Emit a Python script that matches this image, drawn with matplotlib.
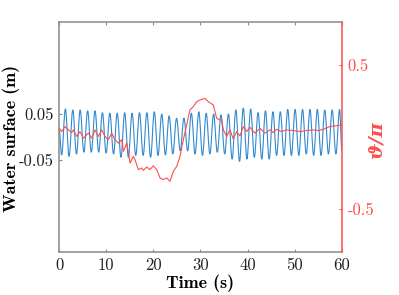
import matplotlib
matplotlib.use('Agg')
import matplotlib.pyplot as plt
from matplotlib.path import Path
from matplotlib.patches import PathPatch
import numpy as np

# Water surface: times and values of crests and troughs
crest_t = [1.34, 2.91, 4.48, 6.06, 7.63, 9.20, 10.77, 12.34, 13.92, 15.49,
           17.06, 18.63, 20.20, 21.78, 23.35, 24.92, 26.49, 28.06, 29.64, 31.21,
           32.78, 34.35, 35.92, 37.50, 39.07, 40.64, 42.21, 43.78, 45.36, 46.93,
           48.50, 50.07, 51.64, 53.22, 54.79, 56.36, 57.93, 59.50]
crest_v = [0.061, 0.059, 0.059, 0.057, 0.057, 0.053, 0.052, 0.052, 0.053, 0.052,
           0.053, 0.053, 0.055, 0.050, 0.046, 0.041, 0.041, 0.052, 0.055, 0.052,
           0.050, 0.048, 0.050, 0.059, 0.063, 0.061, 0.053, 0.057, 0.055, 0.055,
           0.060, 0.060, 0.060, 0.060, 0.060, 0.059, 0.059, 0.060]
trough_t = [0.55, 2.13, 3.70, 5.27, 6.84, 8.41, 9.99, 11.56, 13.13, 14.70,
            16.27, 17.84, 19.42, 20.99, 22.56, 24.13, 25.70, 27.28, 28.85, 30.42,
            31.99, 33.56, 35.14, 36.71, 38.28, 39.85, 41.42, 43.00, 44.57, 46.14,
            47.71, 49.28, 50.86, 52.43, 54.00, 55.57, 57.14, 58.72]
trough_v = [-0.039, -0.042, -0.037, -0.033, -0.033, -0.033, -0.035, -0.037, -0.044, -0.044,
            -0.040, -0.040, -0.044, -0.040, -0.039, -0.037, -0.030, -0.030, -0.037, -0.040,
            -0.037, -0.033, -0.037, -0.048, -0.053, -0.048, -0.044, -0.048, -0.048, -0.040,
            -0.040, -0.040, -0.040, -0.037, -0.040, -0.040, -0.037, -0.037]
wave_start = (0.0, 0.02)
wave_end = (60.0, -0.03)

# Angle theta/pi
theta_t = [0.0, 0.57, 1.27, 1.98, 2.69, 3.04, 3.75, 4.45, 5.16, 6.22, 6.93, 7.63,
           8.34, 9.05, 9.75, 10.46, 11.17, 11.87, 12.58, 13.29, 13.64, 14.35, 15.05,
           15.76, 16.11, 16.82, 17.53, 17.88, 18.59, 19.29, 20.00, 20.71, 21.41,
           22.12, 22.83, 23.53, 24.24, 24.95, 25.65, 26.36, 27.07, 27.77, 28.48,
           29.19, 29.89, 30.95, 31.66, 32.72, 33.42, 34.13, 34.48, 34.84, 35.55,
           36.25, 36.96, 37.67, 38.37, 39.08, 39.79, 40.49, 41.55, 42.61, 43.67,
           44.73, 45.44, 46.15, 47.21, 48.27, 49.68, 51.10, 52.51, 53.92, 54.98,
           56.04, 57.46, 58.52, 60.0]
theta_v = [0.062, 0.038, 0.073, 0.050, 0.031, 0.050, 0.004, 0.038, -0.008, 0.027,
           -0.008, 0.050, 0.004, 0.050, 0.004, -0.019, 0.027, -0.019, -0.042, -0.019,
           -0.100, -0.042, -0.181, -0.135, -0.158, -0.227, -0.216, -0.232, -0.209,
           -0.227, -0.200, -0.227, -0.285, -0.296, -0.285, -0.308, -0.239, -0.204,
           -0.135, -0.019, 0.085, 0.189, 0.212, 0.246, 0.258, 0.269, 0.246, 0.223,
           0.131, 0.119, 0.119, 0.050, 0.004, 0.050, -0.015, 0.038, 0.008, 0.073,
           0.038, 0.068, 0.027, 0.061, 0.027, 0.050, 0.031, 0.054, 0.038, 0.050,
           0.045, 0.038, 0.045, 0.050, 0.045, 0.054, 0.073, 0.077, 0.085]

# merge crests and troughs in time order
pts = sorted(list(zip(crest_t, crest_v)) + list(zip(trough_t, trough_v)))
pts = [wave_start] + pts + [wave_end]

GRAY = '#8a8a8a'
RED = '#ff4d4d'
BLUE = '#3189cf'
W, H = 399, 295

fig = plt.figure(figsize=(3.99, 2.95), dpi=100)
ax = fig.add_axes([0.148, 0.146, 0.709, 0.779])

# smooth wave: cubic bezier between extremes, flat tangents at the extremes
verts = [pts[0]]
codes = [Path.MOVETO]
for (t0, v0), (t1, v1) in zip(pts[:-1], pts[1:]):
    d = 0.364 * (t1 - t0)
    verts += [(t0 + d, v0), (t1 - d, v1), (t1, v1)]
    codes += [Path.CURVE4] * 3
ax.add_patch(PathPatch(Path(verts, codes), facecolor='none', edgecolor=BLUE, lw=0.8))

ax.set_xlim(0, 60)
ax.set_ylim(-0.25, 0.25)
ax.set_yticks([-0.05, 0.05])
ax.set_yticklabels(['-0.05', '0.05'], family='cmr10', fontsize=12)
ax.set_xticks([0, 10, 20, 30, 40, 50, 60])
ax.set_xticklabels(['0', '10', '20', '30', '40', '50', '60'], family='cmr10', fontsize=12)
ax.tick_params(direction='in', length=2.5, width=0.8, color=GRAY, top=True, labelcolor='#222222', pad=4)
for s in ['left', 'top', 'bottom']:
    ax.spines[s].set_color(GRAY)
    ax.spines[s].set_linewidth(1.1)
ax.spines['right'].set_visible(False)

ax2 = ax.twinx()
ax2.plot(theta_t, theta_v, color=RED, lw=0.8)
ax2.set_ylim(-0.8, 0.8)
ax2.set_yticks([-0.5, 0.5])
ax2.set_yticklabels(['-0.5', '0.5'], family='cmr10', fontsize=12)
ax2.tick_params(direction='in', length=2.5, width=0.8, color=RED, labelcolor=RED, pad=4)
for s in ['left', 'top', 'bottom']:
    ax2.spines[s].set_visible(False)
ax2.spines['right'].set_color(RED)
ax2.spines['right'].set_linewidth(1.1)

# axis titles
fig.text(200 / W, 1 - 283 / H, 'Time (s)', family='cmb10', fontsize=13,
         ha='center', va='center')
fig.text(11 / W, 1 - 138 / H, 'Water surface (m)', family='cmb10', fontsize=13,
         ha='center', va='center', rotation=90)
fig.text(377 / W, 1 - 140 / H, 'ϑ/π', family='DejaVu Serif', fontweight='bold',
         style='italic', fontsize=14, color=RED, ha='center', va='center', rotation=90)

fig.savefig('out.png', dpi=100)
